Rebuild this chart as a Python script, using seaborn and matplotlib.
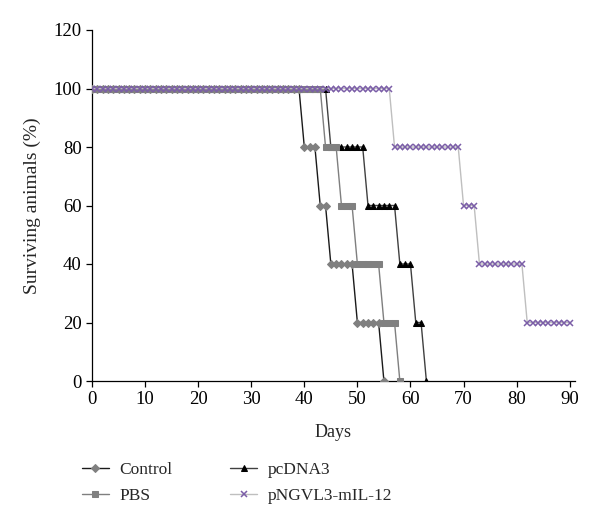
import matplotlib
matplotlib.use("Agg")
import matplotlib.pyplot as plt
import seaborn as sns
import pandas as pd

# ---- data ----
control_days = list(range(0, 56))
control_vals = [100] * 40 + [80] * 3 + [60] * 2 + [40] * 5 + [20] * 5 + [0] * 1

pbs_days = list(range(0, 59))
pbs_vals = [100] * 44 + [80] * 3 + [60] * 3 + [40] * 5 + [20] * 3 + [0] * 1

pcdna3_days = list(range(0, 64))
pcdna3_vals = [100] * 45 + [80] * 7 + [60] * 6 + [40] * 3 + [20] * 2 + [0] * 1

pngvl3_days = list(range(0, 91))
pngvl3_vals = [100] * 57 + [80] * 13 + [60] * 3 + [40] * 9 + [20] * 9

series_names = ["Control", "PBS", "pcDNA3", "pNGVL3-mIL-12"]
x_ticks = [0, 10, 20, 30, 40, 50, 60, 70, 80, 90]
y_ticks = [0, 20, 40, 60, 80, 100, 120]

# ---- styling ----
sns.set_style("ticks")
plt.rcParams["font.family"] = ["Liberation Serif", "DejaVu Serif"]
plt.rcParams["font.size"] = 13

fig = plt.figure(figsize=(6.0, 5.27), dpi=100)
ax = fig.add_axes([92 / 600, 1 - 381 / 527, (575 - 92) / 600, (381 - 30) / 527])

styles = [
    dict(color="#1a1a1a", marker="D", markersize=4, mfc="#808080", mec="#808080", zorder=4),
    dict(color="#7f7f7f", marker="s", markersize=4.5, mfc="#808080", mec="#808080", zorder=3),
    dict(color="#404040", marker="^", markersize=4.5, mfc="#000000", mec="#000000", zorder=2),
    dict(color="#bfbfbf", marker="x", markersize=4.5, mfc="#7b5ea7", mec="#7b5ea7", mew=1.1, zorder=5),
]
data = [
    (control_days, control_vals),
    (pbs_days, pbs_vals),
    (pcdna3_days, pcdna3_vals),
    (pngvl3_days, pngvl3_vals),
]

for name, (d, v), st in zip(series_names, data, styles):
    df = pd.DataFrame({"Days": d, "Surviving": v})
    sns.lineplot(data=df, x="Days", y="Surviving", ax=ax, label=name,
                 linewidth=1.0, **st)

ax.set_xlim(0, 91)
ax.set_ylim(0, 120)
ax.set_xticks(x_ticks)
ax.set_yticks(y_ticks)
ax.set_xlabel("Days", fontsize=13, labelpad=11)
ax.set_ylabel("Surviving animals (%)", fontsize=14, labelpad=9)
ax.tick_params(axis="both", direction="out", length=4, width=0.9, labelsize=13.5, colors="black")
for s in ["left", "bottom"]:
    ax.spines[s].set_linewidth(0.9)
    ax.spines[s].set_color("black")
sns.despine(ax=ax)

handles, labels = ax.get_legend_handles_labels()
ax.get_legend().remove()
fig.legend(handles, labels, ncol=2, frameon=False, loc="upper left",
           bbox_to_anchor=(66 / 600, 1 - 446 / 527), handlelength=1.55,
           handletextpad=0.63, columnspacing=3.33, labelspacing=0.6, fontsize=12.5)

fig.savefig("out.png", dpi=100)
